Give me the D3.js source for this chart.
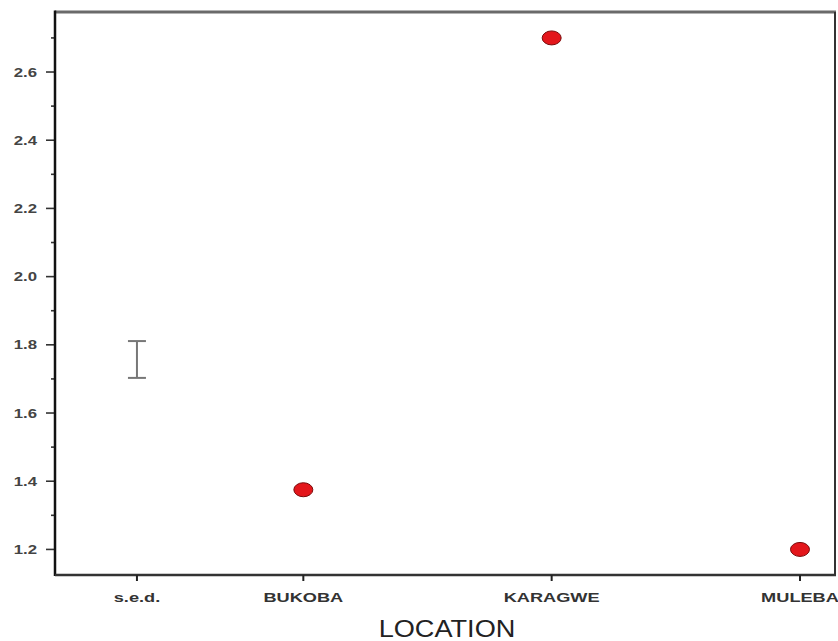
<!DOCTYPE html>
<html>
<head>
  <meta charset="utf-8">
  <script src="https://cdn.jsdelivr.net/npm/d3@7"></script>
  <style>
    body { margin: 0; background: #fff; }
  </style>
</head>
<body>
<div id="chart"></div>
<script>
  var width = 838, height = 641;
  var margin = {top: 12, right: 2, bottom: 66, left: 55};

  // categories and their x positions (s.e.d. sits closer to the axis)
  var categories = ["s.e.d.", "BUKOBA", "KARAGWE", "MULEBA"];
  var catPos = [0.33, 1, 2, 3];
  var values = [null, 1.375, 2.70, 1.20];
  // standard error of difference bar
  var sedCenter = 1.757;
  var sedHalf = 0.054;
  var yTicks = [1.2, 1.4, 1.6, 1.8, 2.0, 2.2, 2.4, 2.6];
  var yMinor = [1.3, 1.5, 1.7, 1.9, 2.1, 2.3, 2.5, 2.7];

  var svg = d3.select("#chart").append("svg")
    .attr("width", width).attr("height", height);

  var x = d3.scaleLinear().domain([0, 3.145])
    .range([margin.left, width - margin.right]);
  var y = d3.scaleLinear().domain([1.125, 2.776])
    .range([height - margin.bottom, margin.top]);

  var stretch = 1.4; // the picture is squeezed wide, so text is too

  // frame: top and right in grey, left and bottom dark
  svg.append("line")
    .attr("x1", x(0)).attr("x2", x(3.145)).attr("y1", y(2.776)).attr("y2", y(2.776))
    .style("stroke", "#6a6a6a").style("stroke-width", 3);
  svg.append("line")
    .attr("x1", x(3.145) - 1).attr("x2", x(3.145) - 1).attr("y1", y(2.776)).attr("y2", y(1.125))
    .style("stroke", "#333").style("stroke-width", 2);

  // y axis
  var yAxis = svg.append("g").attr("transform", "translate(" + margin.left + ",0)");
  yAxis.selectAll(".major").data(yTicks).enter().append("line")
    .attr("x1", -9).attr("x2", 0)
    .attr("y1", function(d) { return y(d); }).attr("y2", function(d) { return y(d); })
    .style("stroke", "#333").style("stroke-width", 1.6);
  yAxis.selectAll(".minor").data(yMinor).enter().append("line")
    .attr("x1", -4).attr("x2", 0)
    .attr("y1", function(d) { return y(d); }).attr("y2", function(d) { return y(d); })
    .style("stroke", "#333").style("stroke-width", 1.6);
  yAxis.selectAll("g.lab").data(yTicks).enter().append("g")
    .attr("transform", function(d) { return "translate(-18," + (y(d) + 4.5) + ") scale(" + stretch + ",1)"; })
    .append("text")
    .attr("text-anchor", "end")
    .attr("font-family", "Liberation Sans, Arial, sans-serif")
    .attr("font-size", 12)
    .attr("font-weight", "bold")
    .attr("fill", "#444")
    .text(function(d) { return d3.format(".1f")(d); });
  yAxis.append("line")
    .attr("x1", 0).attr("x2", 0).attr("y1", y(2.776) - 1.5).attr("y2", y(1.125) + 1)
    .style("stroke", "#111").style("stroke-width", 2.5);

  // x axis
  var xAxis = svg.append("g").attr("transform", "translate(0," + y(1.125) + ")");
  xAxis.append("line")
    .attr("x1", x(0)).attr("x2", x(3.145)).attr("y1", 0).attr("y2", 0)
    .style("stroke", "#333").style("stroke-width", 2.5);
  xAxis.selectAll(".tick").data(catPos).enter().append("line")
    .attr("x1", function(d) { return x(d); }).attr("x2", function(d) { return x(d); })
    .attr("y1", 0).attr("y2", 6)
    .style("stroke", "#222").style("stroke-width", 2);
  xAxis.selectAll("g.lab").data(categories).enter().append("g")
    .attr("transform", function(d, i) { return "translate(" + x(catPos[i]) + ",27) scale(" + stretch + ",1)"; })
    .append("text")
    .attr("text-anchor", "middle")
    .attr("font-family", "Liberation Sans, Arial, sans-serif")
    .attr("font-size", 13)
    .attr("font-weight", "bold")
    .attr("fill", "#333")
    .text(function(d) { return d; });

  // axis title
  svg.append("g")
    .attr("transform", "translate(447,637) scale(1.18,1)")
    .append("text")
    .attr("text-anchor", "middle")
    .attr("font-family", "Liberation Sans, Arial, sans-serif")
    .attr("font-size", 23)
    .attr("fill", "#222")
    .text("LOCATION");

  // s.e.d. bar
  var sx = x(catPos[0]);
  svg.append("line")
    .attr("x1", sx).attr("x2", sx).attr("y1", y(sedCenter + sedHalf)).attr("y2", y(sedCenter - sedHalf))
    .style("stroke", "#777").style("stroke-width", 2);
  [sedCenter + sedHalf, sedCenter - sedHalf].forEach(function(v) {
    svg.append("line")
      .attr("x1", sx - 9).attr("x2", sx + 9).attr("y1", y(v)).attr("y2", y(v))
      .style("stroke", "#777").style("stroke-width", 2);
  });

  // points
  svg.selectAll("ellipse.pt").data(values.slice(1)).enter().append("ellipse")
    .attr("cx", function(d, i) { return x(catPos[i + 1]); })
    .attr("cy", function(d) { return y(d); })
    .attr("rx", 9.5).attr("ry", 7)
    .style("fill", "#e3161b")
    .style("stroke", "#7a0a0a").style("stroke-width", 1);
</script>
</body>
</html>
